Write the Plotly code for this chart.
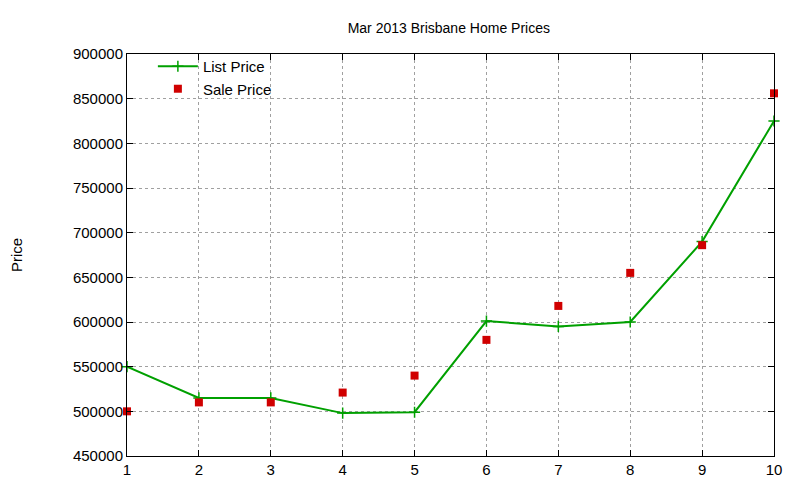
import plotly.graph_objects as go

months = [1, 2, 3, 4, 5, 6, 7, 8, 9, 10]
list_price = [550000, 515000, 515000, 498000, 499000, 601000, 595000, 600000, 690000, 825000]
sale_price = [500000, 510000, 510000, 521000, 540000, 580000, 618000, 655000, 686000, 856000]
y_ticks = list(range(450000, 900001, 50000))

fig = go.Figure()
fig.add_trace(go.Scatter(x=months, y=list_price, name="List Price", mode="lines+markers", cliponaxis=False,
                         line=dict(color="#00a000", width=2),
                         marker=dict(symbol="cross-thin", size=8, line=dict(color="#00a000", width=1.5))))
fig.add_trace(go.Scatter(x=months, y=sale_price, name="Sale Price", mode="markers", cliponaxis=False,
                         marker=dict(symbol="square", size=8, color="#d00000")))

axis = dict(showline=True, linecolor="black", linewidth=1, mirror="ticks", ticks="inside",
            ticklen=6, tickcolor="black", showgrid=True, gridcolor="#a0a0a0", griddash="dot",
            gridwidth=1, zeroline=False, automargin=False, tickfont=dict(size=15, color="black"))
fig.update_layout(
    width=800, height=480, plot_bgcolor="white", paper_bgcolor="white",
    margin=dict(l=119, r=34, t=46, b=32),
    font=dict(family="Liberation Sans, Arial", color="black"),
    title=dict(text="Mar 2013 Brisbane Home Prices", x=0.551, xanchor="center", y=0.958, yanchor="middle",
               font=dict(size=14)),
    xaxis=dict(range=[1, 10], tickvals=months, **axis),
    yaxis=dict(range=[450000, 900000], tickvals=y_ticks, tickformat="d",
               title=dict(text="Price", font=dict(size=15), standoff=50), **axis),
    legend=dict(x=0.04, y=1.01, xanchor="left", yanchor="top", bgcolor="rgba(0,0,0,0)",
                font=dict(size=15), tracegroupgap=0, itemwidth=40),
    showlegend=True,
)
fig.write_html("out.html")
